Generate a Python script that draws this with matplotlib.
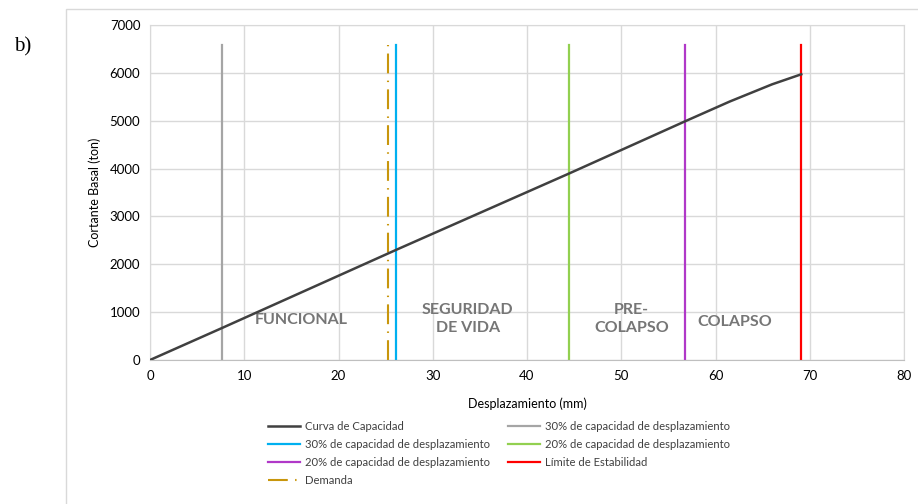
import matplotlib.pyplot as plt
from matplotlib.patches import Rectangle

# capacity curve
desp = [0, 7.6, 26.1, 44.5, 56.8, 61.5, 66.0, 69.1]
cortante = [0, 665, 2300, 3900, 4990, 5400, 5760, 5970]

# vertical limit lines
x_gris = 7.6
x_cian = 26.1
x_verde = 44.5
x_morado = 56.8
x_rojo = 69.1
x_demanda = 25.3
y_top = 6580

zonas = ['FUNCIONAL', 'SEGURIDAD\nDE VIDA', 'PRE-\nCOLAPSO', 'COLAPSO']
zonas_x = [16.0, 33.7, 51.1, 62.0]
zonas_y = [830, 850, 850, 790]

plt.rcParams['font.family'] = ['Lato', 'DejaVu Sans']

fig = plt.figure(figsize=(9.18, 5.04), dpi=100)
fig.patches.append(Rectangle((66 / 918, -0.1), 1.0, 1 - 9 / 504 + 0.1,
                             transform=fig.transFigure, fill=False,
                             edgecolor='#d9d9d9', lw=1.0))
fig.text(14 / 918, 1 - 47 / 504, 'b)', family='Liberation Serif', fontsize=15,
         va='center', ha='left')

ax = fig.add_axes([150 / 918, 1 - 360 / 504, 754 / 918, 335 / 504])

h_curva, = ax.plot(desp, cortante, color='#404040', lw=1.8, label='Curva de Capacidad', zorder=5)
h_gris, = ax.plot([x_gris, x_gris], [0, y_top], color='#a5a5a5', lw=1.6,
                  label='30% de capacidad de desplazamiento')
h_cian, = ax.plot([x_cian, x_cian], [0, y_top], color='#00b0f0', lw=1.6,
                  label='30% de capacidad de desplazamiento')
h_verde, = ax.plot([x_verde, x_verde], [0, y_top], color='#92d050', lw=1.6,
                   label='20% de capacidad de desplazamiento')
h_morado, = ax.plot([x_morado, x_morado], [0, y_top], color='#b038c8', lw=1.6,
                    label='20% de capacidad de desplazamiento')
h_rojo, = ax.plot([x_rojo, x_rojo], [0, y_top], color='#ff0000', lw=1.6,
                  label='Límite de Estabilidad')
h_dem, = ax.plot([x_demanda, x_demanda], [0, y_top], color='#c8960c', lw=1.5,
                 linestyle=(0, (9.5, 3.5, 0.7, 3.5)), label='Demanda')

for t, x, y in zip(zonas, zonas_x, zonas_y):
    ax.text(x, y, t, ha='center', va='center', fontsize=11.5, fontweight='bold',
            color='#767676', linespacing=1.35)

ax.set_xlim(0, 80)
ax.set_ylim(0, 7000)
ax.set_xticks(range(0, 81, 10))
ax.set_yticks(range(0, 7001, 1000))
ax.grid(True, color='#d9d9d9', lw=1.0)
ax.set_axisbelow(True)
for s in ax.spines.values():
    s.set_color('#d9d9d9')
ax.spines['bottom'].set_color('#bfbfbf')
ax.tick_params(length=0, labelsize=9.5, colors='#000000', pad=7)
ax.set_xlabel('Desplazamiento (mm)', fontsize=9, labelpad=11)
ax.set_ylabel('Cortante Basal (ton)', fontsize=9, labelpad=6)

handles = [h_curva, h_cian, h_morado, h_dem, h_gris, h_verde, h_rojo]
fig.legend(handles=handles, labels=[h.get_label() for h in handles],
           loc='upper left', bbox_to_anchor=(258 / 918, 1 - 411 / 504), ncol=2,
           frameon=False, fontsize=8.1, handlelength=2.8, handletextpad=0.5,
           columnspacing=1.6, labelspacing=0.62, labelcolor='#404040')

fig.savefig('out.png', dpi=100)
